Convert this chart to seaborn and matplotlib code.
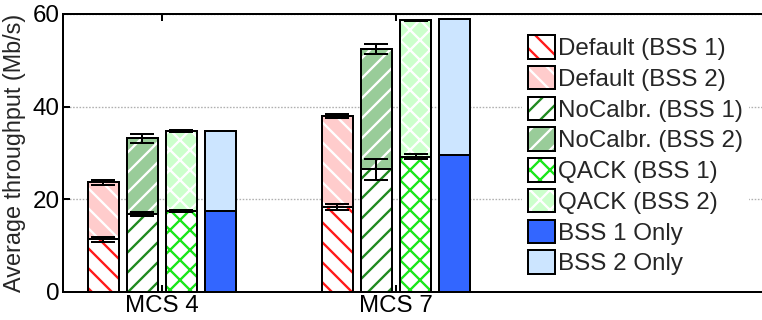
import numpy as np
import pandas as pd
import matplotlib
matplotlib.use("Agg")
import matplotlib.pyplot as plt
from matplotlib.patches import Patch, Rectangle
from matplotlib.legend_handler import HandlerTuple
import seaborn as sns

# ---- data -------------------------------------------------------------
groups = ["MCS 4", "MCS 7"]
methods = ["Default", "NoCalbr.", "QACK", "Only"]

# throughput of BSS 1 and of both BSSs stacked (Mb/s), per MCS
default_bss1 = [11.4, 18.4]
default_total = [23.7, 37.9]
nocalbr_bss1 = [16.9, 26.5]
nocalbr_total = [33.2, 52.4]
qack_bss1 = [17.5, 29.2]
qack_total = [34.8, 58.6]
only_bss1 = [17.5, 29.6]
only_total = [34.8, 58.9]

# error bar half-widths (Mb/s); the single-BSS runs have none
default_err1 = [0.55, 0.7]
default_err_total = [0.5, 0.45]
nocalbr_err1 = [0.4, 2.3]
nocalbr_err_total = [1.0, 1.1]
qack_err1 = [0.15, 0.5]
qack_err_total = [0.2, 0.2]

legend_labels = ["Default (BSS 1)", "Default (BSS 2)",
                 "NoCalbr. (BSS 1)", "NoCalbr. (BSS 2)",
                 "QACK (BSS 1)", "QACK (BSS 2)",
                 "BSS 1 Only", "BSS 2 Only"]

# ---- styles -----------------------------------------------------------
# (fill, hatch, hatch colour) for the lower (BSS 1) and upper (BSS 2) segments
style_bss1 = {
    "Default": ("white", "\\\\", "#ff1a1a"),
    "NoCalbr.": ("white", "//", "#1f8a1f"),
    "QACK": ("white", "xx", "#19e619"),
    "Only": ("#3366ff", "", "#3366ff"),
}
style_bss2 = {
    "Default": ("#ffcccc", "\\\\", "white"),
    "NoCalbr.": ("#99cc99", "//", "white"),
    "QACK": ("#ccffcc", "xx", "white"),
    "Only": ("#cce5ff", "", "#cce5ff"),
}

df = pd.DataFrame({
    "mcs": groups * 4,
    "method": np.repeat(methods, 2),
    "bss1": default_bss1 + nocalbr_bss1 + qack_bss1 + only_bss1,
    "total": default_total + nocalbr_total + qack_total + only_total,
})

sns.set_theme(style="white")
plt.rcParams["font.family"] = ["Liberation Sans", "DejaVu Sans"]
plt.rcParams["hatch.linewidth"] = 1.4

DPI = 120
W, H = 762, 320
fig = plt.figure(figsize=(W / DPI, H / DPI), dpi=DPI)
ax = fig.add_axes([63 / W, 28 / H, 1 - 63 / W, 278 / H])

FS = 14.5
EDGE_LW = 1.2
order = [m for g in groups for m in methods]  # bar order along x


def draw_layer(col, styles):
    before = set(map(id, ax.patches))
    sns.barplot(data=df, x="mcs", y=col, hue="method", order=groups,
                hue_order=methods, width=0.667, gap=0.2, errorbar=None,
                legend=False, ax=ax,
                palette={m: styles[m][0] for m in methods})
    new = [p for p in ax.patches if id(p) not in before]
    new.sort(key=lambda p: p.get_x())
    for p, m in zip(new, order):
        fill, hatch, hc = styles[m]
        p.set_facecolor(fill)
        p.set_hatch(hatch)
        p.set_edgecolor(hc)
        p.set_linewidth(0)
        p.set_zorder(2)
    for p in new:
        ax.add_patch(Rectangle(p.get_xy(), p.get_width(), p.get_height(),
                               fill=False, edgecolor="black",
                               linewidth=EDGE_LW, zorder=3))
    return new


tot_patches = draw_layer("total", style_bss2)
b1_patches = draw_layer("bss1", style_bss1)

# error bars on the lower segment and on the stack top
err1 = {"Default": default_err1, "NoCalbr.": nocalbr_err1, "QACK": qack_err1}
err_t = {"Default": default_err_total, "NoCalbr.": nocalbr_err_total,
         "QACK": qack_err_total}
for patches, errs in ((b1_patches, err1), (tot_patches, err_t)):
    xs, ys, es = [], [], []
    for k, (p, m) in enumerate(zip(patches, order)):
        if m not in errs:
            continue
        gi = k // len(methods)
        xs.append(p.get_x() + p.get_width() / 2)
        ys.append(p.get_height())
        es.append(errs[m][gi])
    ax.errorbar(xs, ys, yerr=es, fmt="none", ecolor="black",
                elinewidth=1.2, capsize=7, capthick=1.2, zorder=4)

# ---- axes -------------------------------------------------------------
ax.set_ylim(0, 60)
ax.set_yticks([0, 20, 40, 60])
ax.set_xlim(-0.423, 2.564)
ax.set_xlabel("")
ax.set_ylabel("Average throughput (Mb/s)", fontsize=14, labelpad=4)
ax.set_axisbelow(True)
ax.yaxis.grid(True, linestyle=(0, (1.2, 1.2)), color="#b0b0b0", linewidth=0.8)
ax.xaxis.grid(False)
for s in ("left", "bottom", "top"):
    ax.spines[s].set_linewidth(EDGE_LW)
    ax.spines[s].set_color("black")
ax.spines["right"].set_visible(False)
ax.tick_params(axis="both", direction="in", length=4, width=1.2,
               color="black", labelsize=FS, labelcolor="black")
ax.tick_params(axis="x", top=True, bottom=True, pad=2)
ax.tick_params(axis="y", left=True, right=False, pad=2)

# ---- legend -----------------------------------------------------------
handles = []
for m in methods:
    for styles in (style_bss1, style_bss2):
        fill, hatch, hc = styles[m]
        handles.append((Patch(facecolor=fill, hatch=hatch, edgecolor=hc,
                              linewidth=0),
                        Patch(fill=False, edgecolor="black",
                              linewidth=EDGE_LW)))
leg = ax.legend(handles, legend_labels,
                handler_map={tuple: HandlerTuple(ndivide=1, pad=0)},
                loc="center left", bbox_to_anchor=(0.657, 0.492),
                borderaxespad=0, borderpad=0.22, fontsize=FS,
                handlelength=1.12, handleheight=1.12, handletextpad=0.15,
                labelspacing=0.24, frameon=True, fancybox=False,
                framealpha=1, facecolor="white", edgecolor="none")
leg.set_zorder(5)

fig.savefig("out.png", dpi=DPI)
